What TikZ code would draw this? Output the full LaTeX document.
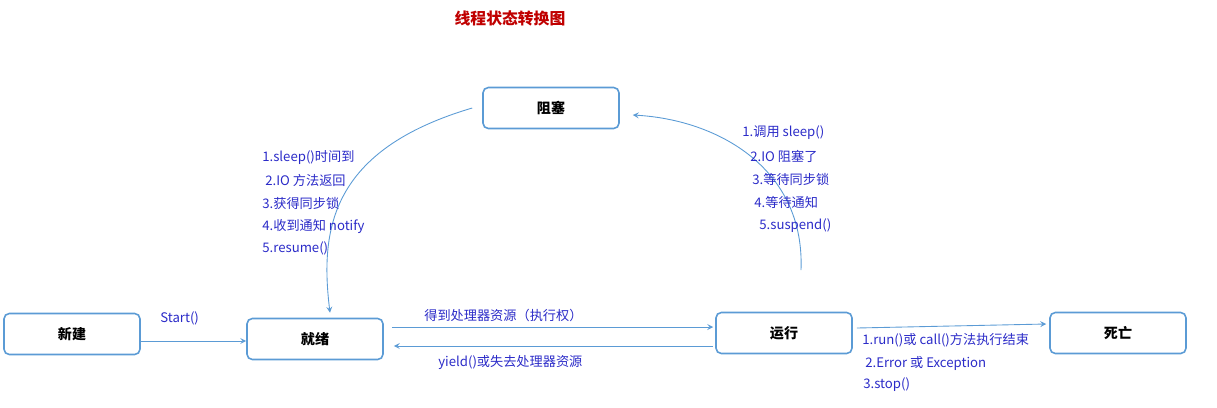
\documentclass[tikz,border=0pt]{standalone}
\usepackage{fontspec}
\setmainfont{Noto Sans CJK SC}
\usetikzlibrary{arrows,positioning,calc}
\definecolor{boxline}{HTML}{5B9BD5}
\definecolor{lbl}{HTML}{2B2BC8}
\definecolor{ttl}{HTML}{C00000}
\tikzset{
  state/.style={draw=boxline, line width=0.9pt, rounded corners=3pt, fill=white,
    minimum width=2.72cm, minimum height=0.82cm, font=\fontsize{8}{9}\selectfont\bfseries},
  flow/.style={->, >=stealth, draw=boxline, line width=0.5pt},
  note/.style={text=lbl, font=\fontsize{7.5}{9}\selectfont, anchor=west, inner sep=0pt}
}
\begin{document}
\begin{tikzpicture}[x=0.02cm, y=-0.02cm]
    \useasboundingbox (0,0) rectangle (1217,407);
    % Title
    \node[text=ttl, font=\fontsize{9}{10}\selectfont\bfseries] (title) at (510,18) {线程状态转换图};

    % States
    \node[state] (block) at (551,108) {阻塞};
    \node[state] (new) at (72,334) {新建};
    \node[state] (ready) at (315,339) {就绪};
    \node[state] (run) at (784,333) {运行};
    \node[state] (dead) at (1118,333) {死亡};

    % Transitions
    \draw[flow] (new.east |- 0,341) -- (ready.west |- 0,341);
    \node[note] (start) at (160,318) {Start()};
    \draw[flow] ($(ready.east)+(8,-12)$) -- ($(run.west)+(-2,-6)$);
    \node[note] (get) at (424,315) {得到处理器资源（执行权）};
    \draw[flow] ($(run.west)+(-2,13)$) -- ($(ready.east)+(10,7)$);
    \node[note] (yield) at (438,362) {yield()或失去处理器资源};
    \draw[flow] ($(run.east)+(4,-5)$) -- ($(dead.west)+(-3,-9)$);
    \node[note] (d1) at (862,340) {1.run()或 call()方法执行结束};
    \node[note] (d2) at (865,363) {2.Error 或 Exception};
    \node[note] (d3) at (863,385) {3.stop()};

    % Block <-> ready / run
    \coordinate (rtop) at (801,270);
    \draw[flow] ($(block.west)+(-10,0)$) .. controls (330,150) and (320,230) .. ($(ready.north)+(15,-5)$);
    \draw[flow] (rtop) .. controls (805,170) and (720,120) .. ($(block.east)+(13,7)$);

    % Labels of block transitions
    \node[note] (w1) at (262,157) {1.sleep()时间到};
    \node[note] (w2) at (265,180) {2.IO 方法返回};
    \node[note] (w3) at (262,203) {3.获得同步锁};
    \node[note] (w4) at (262,226) {4.收到通知 notify};
    \node[note] (w5) at (262,248) {5.resume()};
    \node[note] (b1) at (742,133) {1.调用 sleep()};
    \node[note] (b2) at (750,156) {2.IO 阻塞了};
    \node[note] (b3) at (752,179) {3.等待同步锁};
    \node[note] (b4) at (754,202) {4.等待通知};
    \node[note] (b5) at (759,226) {5.suspend()};
\end{tikzpicture}
\end{document}
